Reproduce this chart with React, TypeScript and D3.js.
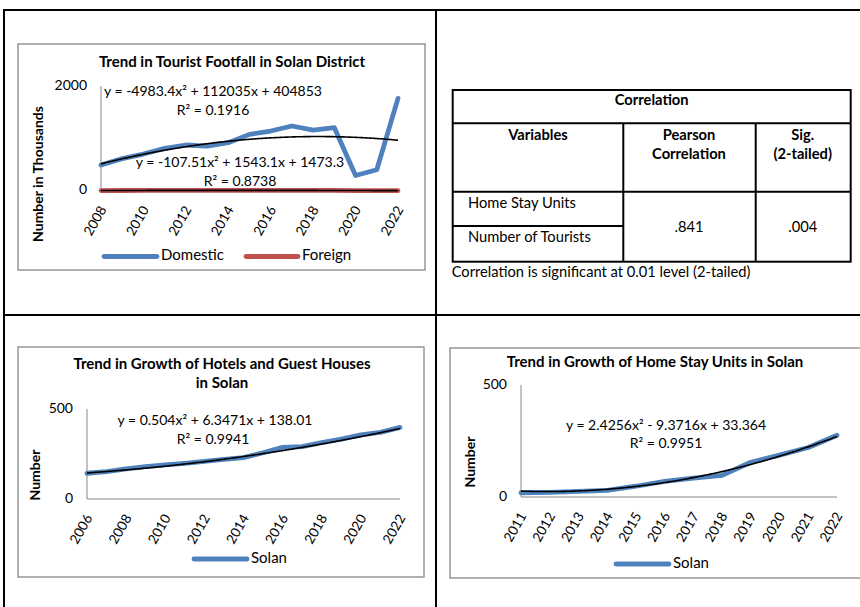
import React from 'react';
import * as d3 from 'd3';

const FONT = 'Lato, "Open Sans", sans-serif';

// ---------- Chart 1: Tourist footfall (thousands) ----------
const footfallYears = [2008, 2009, 2010, 2011, 2012, 2013, 2014, 2015, 2016, 2017, 2018, 2019, 2020, 2021, 2022];
const domesticTourists = [490, 612, 700, 809, 873, 853, 917, 1076, 1140, 1236, 1159, 1204, 290, 400, 1764];
const foreignTourists = [3.0, 4.2, 5.1, 5.8, 6.4, 6.9, 7.1, 6.9, 6.6, 6.0, 5.3, 4.4, 0.8, 0.6, 1.1];
const domesticTrendCoef = [-4983.4, 112035, 404853];
const foreignTrendCoef = [-107.51, 1543.1, 1473.3];
const footfallXTicks = [2008, 2010, 2012, 2014, 2016, 2018, 2020, 2022];
const footfallYTicks = [0, 2000];
const footfallEquations = ['y = -4983.4x² + 112035x + 404853', 'R² = 0.1916', 'y = -107.51x² + 1543.1x + 1473.3', 'R² = 0.8738'];

// ---------- Chart 2: Hotels and guest houses ----------
const hotelYears = [2006, 2007, 2008, 2009, 2010, 2011, 2012, 2013, 2014, 2015, 2016, 2017, 2018, 2019, 2020, 2021, 2022];
const hotelUnits = [143, 152, 167, 180, 189, 198, 209, 220, 230, 257, 287, 291, 313, 333, 356, 370, 398];
const hotelTrendCoef = [0.504, 6.3471, 138.01];
const hotelXTicks = [2006, 2008, 2010, 2012, 2014, 2016, 2018, 2020, 2022];
const hotelYTicks = [0, 500];
const hotelEquations = ['y = 0.504x² + 6.3471x + 138.01', 'R² = 0.9941'];

// ---------- Chart 3: Home stay units ----------
const homestayYears = [2011, 2012, 2013, 2014, 2015, 2016, 2017, 2018, 2019, 2020, 2021, 2022];
const homestayUnits = [19, 21, 25, 30, 48, 70, 84, 97, 155, 187, 221, 276];
const homestayTrendCoef = [2.4256, -9.3716, 33.364];
const homestayXTicks = homestayYears;
const homestayYTicks = [0, 500];
const homestayEquations = ['y = 2.4256x² - 9.3716x + 33.364', 'R² = 0.9951'];

// ---------- Correlation table ----------
const tableTitle = 'Correlation';
const tableHeaders = [['Variables'], ['Pearson', 'Correlation'], ['Sig.', '(2-tailed)']];
const tableVariables = ['Home Stay Units', 'Number of Tourists'];
const pearsonValue = '.841';
const sigValue = '.004';
const tableNote = 'Correlation is significant at 0.01 level (2-tailed)';

const BLUE = '#4f81bd';
const RED = '#c0504d';

type Series = { name: string; values: number[]; color: string };
type Trend = { coef: number[]; scale: number };
type Label = { text: string; x: number; y: number; anchor?: string };

interface ChartProps {
  frame: [number, number, number, number];
  plot: { x0: number; x1: number; y0: number; y1: number };
  years: number[];
  series: Series[];
  trends: Trend[];
  xTicks: number[];
  yTicks: number[];
  titleLines: string[];
  titleX: number;
  titleY: number;
  titleGap: number;
  yLabel: string;
  yLabelX: number;
  yLabelY: number;
  equations: Label[];
  legend: { x0: number; x1: number; y: number; text: string; color: string }[];
  tickFont: number;
  eqFont: number;
}

function TrendChart(p: ChartProps) {
  const x = d3.scaleLinear().domain([p.years[0], p.years[p.years.length - 1]]).range([p.plot.x0, p.plot.x1]);
  const y = d3.scaleLinear().domain([p.yTicks[0], p.yTicks[p.yTicks.length - 1]]).range([p.plot.y1, p.plot.y0]);
  const line = d3.line<[number, number]>().x((d) => x(d[0])).y((d) => y(d[1]));
  const n = p.years.length;
  const samples = d3.range(1, n + 0.0001, 0.05);
  const [fx, fy, fw, fh] = p.frame;
  return (
    <g fontFamily={FONT}>
      <rect x={fx} y={fy} width={fw} height={fh} fill="#fff" stroke="#969696" strokeWidth={1.5} />
      {p.titleLines.map((t, i) => (
        <text key={t} x={p.titleX} y={p.titleY + i * p.titleGap} textAnchor="middle" dominantBaseline="middle" fontWeight="bold" fontSize={15}>
          {t}
        </text>
      ))}
      <text transform={`translate(${p.yLabelX},${p.yLabelY}) rotate(-90)`} textAnchor="middle" dominantBaseline="middle" fontWeight="bold" fontSize={14}>
        {p.yLabel}
      </text>
      <line x1={p.plot.x0} x2={p.plot.x0} y1={p.plot.y0} y2={p.plot.y1} stroke="#868686" strokeWidth={1} />
      <line x1={p.plot.x0} x2={p.plot.x1} y1={p.plot.y1} y2={p.plot.y1} stroke="#868686" strokeWidth={1} />
      {p.yTicks.map((t) => (
        <text key={t} x={p.plot.x0 - 14} y={y(t)} textAnchor="end" dominantBaseline="middle" fontSize={14}>
          {t}
        </text>
      ))}
      {p.xTicks.map((t) => (
        <text key={t} transform={`translate(${x(t) + 3},${p.plot.y1 + 17}) rotate(-60)`} textAnchor="end" dominantBaseline="middle" fontSize={p.tickFont}>
          {t}
        </text>
      ))}
      {p.series.map((s) => (
        <path key={s.name} d={line(p.years.map((yr, i) => [yr, s.values[i]]) as [number, number][]) || ''} fill="none" stroke={s.color} strokeWidth={4.8} strokeLinejoin="round" strokeLinecap="round" />
      ))}
      {p.trends.map((tr, k) => (
        <path
          key={k}
          d={line(samples.map((t) => [p.years[0] + t - 1, (tr.coef[0] * t * t + tr.coef[1] * t + tr.coef[2]) / tr.scale]) as [number, number][]) || ''}
          fill="none"
          stroke="#000"
          strokeWidth={1.6}
        />
      ))}
      {p.equations.map((e, i) => (
        <text key={i} x={e.x} y={e.y} textAnchor={e.anchor || 'middle'} dominantBaseline="middle" fontSize={p.eqFont}>
          {e.text}
        </text>
      ))}
      {p.legend.map((l) => (
        <g key={l.text}>
          <line x1={l.x0} x2={l.x1} y1={l.y} y2={l.y} stroke={l.color} strokeWidth={4.8} strokeLinecap="round" />
          <text x={l.x1 + 4} y={l.y} dominantBaseline="middle" fontSize={15}>
            {l.text}
          </text>
        </g>
      ))}
    </g>
  );
}

function CorrelationTable() {
  const L = 452.7, R = 850.7, T = 90, B = 261.7;
  const c1 = 623.3, c2 = 755.7;
  const r1 = 123.3, r2 = 191.7, rMid = 226;
  const f = 14.7;
  const colCenters = [538, 689, 802.7];
  return (
    <g fontFamily={FONT} fontSize={f}>
      <rect x={L} y={T} width={R - L} height={B - T} fill="none" stroke="#000" strokeWidth={2} />
      <line x1={L} x2={R} y1={r1} y2={r1} stroke="#000" strokeWidth={2} />
      <line x1={L} x2={R} y1={r2} y2={r2} stroke="#000" strokeWidth={2} />
      <line x1={L} x2={c1} y1={rMid} y2={rMid} stroke="#000" strokeWidth={2} />
      <line x1={c1} x2={c1} y1={r1} y2={B} stroke="#000" strokeWidth={2} />
      <line x1={c2} x2={c2} y1={r1} y2={B} stroke="#000" strokeWidth={2} />
      <text x={(L + R) / 2} y={101} textAnchor="middle" dominantBaseline="middle" fontWeight="bold">
        {tableTitle}
      </text>
      {tableHeaders.map((lines, i) =>
        lines.map((t, j) => (
          <text key={`${i}-${j}`} x={colCenters[i]} y={136 + j * 19} textAnchor="middle" dominantBaseline="middle" fontWeight="bold">
            {t}
          </text>
        ))
      )}
      {tableVariables.map((v, i) => (
        <text key={v} x={468} y={204 + i * 34} dominantBaseline="middle">
          {v}
        </text>
      ))}
      <text x={colCenters[1]} y={228} textAnchor="middle" dominantBaseline="middle">
        {pearsonValue}
      </text>
      <text x={colCenters[2]} y={228} textAnchor="middle" dominantBaseline="middle">
        {sigValue}
      </text>
      <text x={451.7} y={273} dominantBaseline="middle">
        {tableNote}
      </text>
    </g>
  );
}

export default function App() {
  return (
    <div style={{ position: 'absolute', left: 0, top: 0 }}>
      <svg width={860} height={607} style={{ display: 'block', background: '#fff' }}>
        <rect width={860} height={607} fill="#fff" />
        {/* outer grid */}
        <line x1={4} x2={870} y1={10} y2={10} stroke="#000" strokeWidth={2} />
        <line x1={4} x2={4} y1={9} y2={620} stroke="#000" strokeWidth={2} />
        <line x1={436} x2={436} y1={9} y2={620} stroke="#000" strokeWidth={2} />
        <line x1={4} x2={870} y1={315} y2={315} stroke="#000" strokeWidth={2} />

        <TrendChart
          frame={[18, 44, 407, 226]}
          plot={{ x0: 101, x1: 398, y0: 86, y1: 190.7 }}
          years={footfallYears}
          series={[
            { name: 'Domestic', values: domesticTourists, color: BLUE },
            { name: 'Foreign', values: foreignTourists, color: RED },
          ]}
          trends={[
            { coef: domesticTrendCoef, scale: 1000 },
            { coef: foreignTrendCoef, scale: 1000 },
          ]}
          xTicks={footfallXTicks}
          yTicks={footfallYTicks}
          titleLines={['Trend in Tourist Footfall in Solan District']}
          titleX={232}
          titleY={63}
          titleGap={19}
          yLabel="Number in Thousands"
          yLabelX={39}
          yLabelY={174}
          equations={[
            { text: footfallEquations[0], x: 104, y: 92, anchor: 'start' },
            { text: footfallEquations[1], x: 213, y: 111 },
            { text: footfallEquations[2], x: 240, y: 163 },
            { text: footfallEquations[3], x: 240, y: 182 },
          ]}
          legend={[
            { x0: 104, x1: 157, y: 256.5, text: 'Domestic', color: BLUE },
            { x0: 246, x1: 298, y: 256.5, text: 'Foreign', color: RED },
          ]}
          tickFont={13.6}
          eqFont={14}
        />

        <CorrelationTable />

        <TrendChart
          frame={[18, 347, 406, 230]}
          plot={{ x0: 87, x1: 400, y0: 409, y1: 499 }}
          years={hotelYears}
          series={[{ name: 'Solan', values: hotelUnits, color: BLUE }]}
          trends={[{ coef: hotelTrendCoef, scale: 1 }]}
          xTicks={hotelXTicks}
          yTicks={hotelYTicks}
          titleLines={['Trend in Growth of Hotels and Guest Houses', 'in Solan']}
          titleX={222}
          titleY={365}
          titleGap={19}
          yLabel="Number"
          yLabelX={36.5}
          yLabelY={475}
          equations={[
            { text: hotelEquations[0], x: 215, y: 421 },
            { text: hotelEquations[1], x: 213, y: 440 },
          ]}
          legend={[{ x0: 194, x1: 247, y: 559, text: 'Solan', color: BLUE }]}
          tickFont={13.6}
          eqFont={14}
        />

        <TrendChart
          frame={[450, 348, 420, 230]}
          plot={{ x0: 521, x1: 837, y0: 385, y1: 497 }}
          years={homestayYears}
          series={[{ name: 'Solan', values: homestayUnits, color: BLUE }]}
          trends={[{ coef: homestayTrendCoef, scale: 1 }]}
          xTicks={homestayXTicks}
          yTicks={homestayYTicks}
          titleLines={['Trend in Growth of Home Stay Units in Solan']}
          titleX={655}
          titleY={363}
          titleGap={19}
          yLabel="Number"
          yLabelX={471}
          yLabelY={462}
          equations={[
            { text: homestayEquations[0], x: 666, y: 426 },
            { text: homestayEquations[1], x: 666, y: 444 },
          ]}
          legend={[{ x0: 616, x1: 669, y: 564, text: 'Solan', color: BLUE }]}
          tickFont={13.6}
          eqFont={14}
        />
      </svg>
    </div>
  );
}
